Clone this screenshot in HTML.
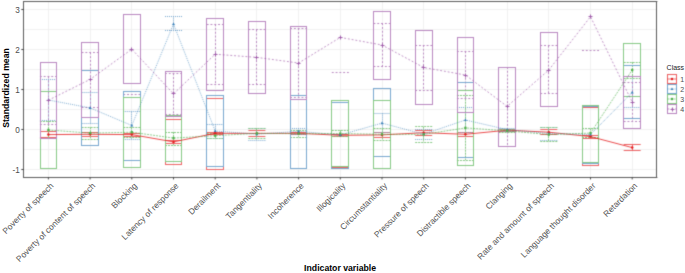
<!DOCTYPE html>
<html><head><meta charset="utf-8"><style>
html,body{margin:0;padding:0;background:#fff;}
body{width:685px;height:273px;overflow:hidden;font-family:"Liberation Sans",sans-serif;}
svg{display:block;}
</style></head><body>
<svg width="685" height="273" viewBox="0 0 685 273">
<defs><filter id="bl" color-interpolation-filters="sRGB" x="0" y="0" width="685" height="273" filterUnits="userSpaceOnUse"><feConvolveMatrix order="3" kernelMatrix="0.0225 0.1050 0.0225 0.1050 0.4900 0.1050 0.0225 0.1050 0.0225" edgeMode="duplicate" preserveAlpha="true"/></filter></defs><g filter="url(#bl)">
<rect width="685" height="273" fill="#fff"/>
<path d="M23.5 169.5H656.9M23.5 129.5H656.9M23.5 89.5H656.9M23.5 49.5H656.9M23.5 9.5H656.9M23.5 149.5H656.9M23.5 109.5H656.9M23.5 69.5H656.9M23.5 29.5H656.9M48.5 1.5V177.5M90.5 1.5V177.5M131.5 1.5V177.5M173.5 1.5V177.5M215.5 1.5V177.5M256.5 1.5V177.5M298.5 1.5V177.5M340.5 1.5V177.5M382.5 1.5V177.5M423.5 1.5V177.5M465.5 1.5V177.5M507.5 1.5V177.5M548.5 1.5V177.5M590.5 1.5V177.5M632.5 1.5V177.5" stroke="#f0f0f0" stroke-width="1" fill="none"/>
<g clip-path="url(#pc)">
<path d="M39.9 131.5H56.9" stroke="#ed6365" stroke-width="1"/><path d="M39.9 137.5H56.9" stroke="#ed6365" stroke-width="1"/><path d="M48.5 131.9V137.3" stroke="#ed6365" stroke-width="1"/><path d="M81.6 132.5H98.6" stroke="#ed6365" stroke-width="1"/><path d="M81.6 136.5H98.6" stroke="#ed6365" stroke-width="1"/><path d="M90.5 132.5V136.3" stroke="#ed6365" stroke-width="1"/><path d="M123.3 133.5H140.3" stroke="#ed6365" stroke-width="1"/><path d="M123.3 136.5H140.3" stroke="#ed6365" stroke-width="1"/><path d="M131.5 133.3V136.9" stroke="#ed6365" stroke-width="1"/><path d="M165 140.5H182" stroke="#ed6365" stroke-width="1"/><path d="M165 143.5H182" stroke="#ed6365" stroke-width="1"/><path d="M173.5 140.5V143.3" stroke="#ed6365" stroke-width="1"/><path d="M206.7 132.5H223.7" stroke="#ed6365" stroke-width="1"/><path d="M206.7 134.5H223.7" stroke="#ed6365" stroke-width="1"/><path d="M215.5 132.2V134.6" stroke="#ed6365" stroke-width="1"/><path d="M248.4 130.5H265.4" stroke="#ed6365" stroke-width="1"/><path d="M248.4 136.5H265.4" stroke="#ed6365" stroke-width="1"/><path d="M256.5 130.8V136" stroke="#ed6365" stroke-width="1"/><path d="M290.1 132.5H307.1" stroke="#ed6365" stroke-width="1"/><path d="M290.1 134.5H307.1" stroke="#ed6365" stroke-width="1"/><path d="M298.5 132V134.6" stroke="#ed6365" stroke-width="1"/><path d="M331.8 134.5H348.8" stroke="#ed6365" stroke-width="1"/><path d="M331.8 136.5H348.8" stroke="#ed6365" stroke-width="1"/><path d="M340.5 134.6V136" stroke="#ed6365" stroke-width="1"/><path d="M373.5 132.5H390.5" stroke="#ed6365" stroke-width="1"/><path d="M373.5 137.5H390.5" stroke="#ed6365" stroke-width="1"/><path d="M382.5 132.9V137.6" stroke="#ed6365" stroke-width="1"/><path d="M415.2 130.5H432.2" stroke="#ed6365" stroke-width="1"/><path d="M415.2 135.5H432.2" stroke="#ed6365" stroke-width="1"/><path d="M423.5 130.2V135.2" stroke="#ed6365" stroke-width="1"/><path d="M456.9 132.5H473.9" stroke="#ed6365" stroke-width="1"/><path d="M456.9 136.5H473.9" stroke="#ed6365" stroke-width="1"/><path d="M465.5 132.5V136.9" stroke="#ed6365" stroke-width="1"/><path d="M498.6 129.5H515.6" stroke="#ed6365" stroke-width="1"/><path d="M498.6 131.5H515.6" stroke="#ed6365" stroke-width="1"/><path d="M507.5 129.4V131" stroke="#ed6365" stroke-width="1"/><path d="M540.3 129.5H557.3" stroke="#ed6365" stroke-width="1"/><path d="M540.3 134.5H557.3" stroke="#ed6365" stroke-width="1"/><path d="M548.5 129.6V134.3" stroke="#ed6365" stroke-width="1"/><path d="M582 135.5H599" stroke="#ed6365" stroke-width="1"/><path d="M582 138.5H599" stroke="#ed6365" stroke-width="1"/><path d="M590.5 135.5V138.4" stroke="#ed6365" stroke-width="1"/><path d="M623.7 144.5H640.7" stroke="#ed6365" stroke-width="1"/><path d="M623.7 150.5H640.7" stroke="#ed6365" stroke-width="1"/><path d="M632.5 144.3V150.4" stroke="#ed6365" stroke-width="1"/>
<path d="M39.9 79.5H56.9" stroke="#77a7cf" stroke-width="1" stroke-dasharray="1 1"/><path d="M39.9 120.5H56.9" stroke="#77a7cf" stroke-width="1" stroke-dasharray="1 1"/><path d="M48.5 79.6V120.4" stroke="#77a7cf" stroke-width="1" stroke-dasharray="1 1"/><path d="M81.6 92.5H98.6" stroke="#77a7cf" stroke-width="1" stroke-dasharray="1 1"/><path d="M81.6 123.5H98.6" stroke="#77a7cf" stroke-width="1" stroke-dasharray="1 1"/><path d="M90.5 92.5V123.7" stroke="#77a7cf" stroke-width="1" stroke-dasharray="1 1"/><path d="M123.3 111.5H140.3" stroke="#77a7cf" stroke-width="1" stroke-dasharray="1 1"/><path d="M123.3 139.5H140.3" stroke="#77a7cf" stroke-width="1" stroke-dasharray="1 1"/><path d="M131.5 111.7V139.5" stroke="#77a7cf" stroke-width="1" stroke-dasharray="1 1"/><path d="M165 16.5H182" stroke="#77a7cf" stroke-width="1" stroke-dasharray="1 1"/><path d="M165 30.5H182" stroke="#77a7cf" stroke-width="1" stroke-dasharray="1 1"/><path d="M173.5 16.4V30.2" stroke="#77a7cf" stroke-width="1" stroke-dasharray="1 1"/><path d="M206.7 124.5H223.7" stroke="#77a7cf" stroke-width="1" stroke-dasharray="1 1"/><path d="M206.7 138.5H223.7" stroke="#77a7cf" stroke-width="1" stroke-dasharray="1 1"/><path d="M215.5 124.3V138" stroke="#77a7cf" stroke-width="1" stroke-dasharray="1 1"/><path d="M248.4 128.5H265.4" stroke="#77a7cf" stroke-width="1" stroke-dasharray="1 1"/><path d="M248.4 140.5H265.4" stroke="#77a7cf" stroke-width="1" stroke-dasharray="1 1"/><path d="M256.5 128.4V140.1" stroke="#77a7cf" stroke-width="1" stroke-dasharray="1 1"/><path d="M290.1 128.5H307.1" stroke="#77a7cf" stroke-width="1" stroke-dasharray="1 1"/><path d="M290.1 134.5H307.1" stroke="#77a7cf" stroke-width="1" stroke-dasharray="1 1"/><path d="M298.5 128.2V134.4" stroke="#77a7cf" stroke-width="1" stroke-dasharray="1 1"/><path d="M373.5 113.5H390.5" stroke="#77a7cf" stroke-width="1" stroke-dasharray="1 1"/><path d="M373.5 132.5H390.5" stroke="#77a7cf" stroke-width="1" stroke-dasharray="1 1"/><path d="M382.5 113.4V132.8" stroke="#77a7cf" stroke-width="1" stroke-dasharray="1 1"/><path d="M415.2 129.5H432.2" stroke="#77a7cf" stroke-width="1" stroke-dasharray="1 1"/><path d="M415.2 139.5H432.2" stroke="#77a7cf" stroke-width="1" stroke-dasharray="1 1"/><path d="M423.5 129.8V139.4" stroke="#77a7cf" stroke-width="1" stroke-dasharray="1 1"/><path d="M456.9 107.5H473.9" stroke="#77a7cf" stroke-width="1" stroke-dasharray="1 1"/><path d="M456.9 132.5H473.9" stroke="#77a7cf" stroke-width="1" stroke-dasharray="1 1"/><path d="M465.5 107.4V132.6" stroke="#77a7cf" stroke-width="1" stroke-dasharray="1 1"/><path d="M498.6 128.5H515.6" stroke="#77a7cf" stroke-width="1" stroke-dasharray="1 1"/><path d="M498.6 131.5H515.6" stroke="#77a7cf" stroke-width="1" stroke-dasharray="1 1"/><path d="M507.5 128V131.2" stroke="#77a7cf" stroke-width="1" stroke-dasharray="1 1"/><path d="M540.3 127.5H557.3" stroke="#77a7cf" stroke-width="1" stroke-dasharray="1 1"/><path d="M540.3 140.5H557.3" stroke="#77a7cf" stroke-width="1" stroke-dasharray="1 1"/><path d="M548.5 127V140.1" stroke="#77a7cf" stroke-width="1" stroke-dasharray="1 1"/><path d="M623.7 76.5H640.7" stroke="#77a7cf" stroke-width="1" stroke-dasharray="1 1"/><path d="M623.7 107.5H640.7" stroke="#77a7cf" stroke-width="1" stroke-dasharray="1 1"/><path d="M632.5 76.6V107.9" stroke="#77a7cf" stroke-width="1" stroke-dasharray="1 1"/>
<path d="M39.9 121.5H56.9" stroke="#86c984" stroke-width="1" stroke-dasharray="2 1"/><path d="M39.9 138.5H56.9" stroke="#86c984" stroke-width="1" stroke-dasharray="2 1"/><path d="M48.5 121.1V138.3" stroke="#86c984" stroke-width="1" stroke-dasharray="2 1"/><path d="M81.6 127.5H98.6" stroke="#86c984" stroke-width="1" stroke-dasharray="2 1"/><path d="M81.6 139.5H98.6" stroke="#86c984" stroke-width="1" stroke-dasharray="2 1"/><path d="M90.5 127.2V139" stroke="#86c984" stroke-width="1" stroke-dasharray="2 1"/><path d="M123.3 127.5H140.3" stroke="#86c984" stroke-width="1" stroke-dasharray="2 1"/><path d="M123.3 137.5H140.3" stroke="#86c984" stroke-width="1" stroke-dasharray="2 1"/><path d="M131.5 127.2V137.2" stroke="#86c984" stroke-width="1" stroke-dasharray="2 1"/><path d="M165 132.5H182" stroke="#86c984" stroke-width="1" stroke-dasharray="2 1"/><path d="M165 145.5H182" stroke="#86c984" stroke-width="1" stroke-dasharray="2 1"/><path d="M173.5 132V145.1" stroke="#86c984" stroke-width="1" stroke-dasharray="2 1"/><path d="M206.7 133.5H223.7" stroke="#86c984" stroke-width="1" stroke-dasharray="2 1"/><path d="M206.7 138.5H223.7" stroke="#86c984" stroke-width="1" stroke-dasharray="2 1"/><path d="M215.5 133.2V138" stroke="#86c984" stroke-width="1" stroke-dasharray="2 1"/><path d="M248.4 128.5H265.4" stroke="#86c984" stroke-width="1" stroke-dasharray="2 1"/><path d="M248.4 138.5H265.4" stroke="#86c984" stroke-width="1" stroke-dasharray="2 1"/><path d="M256.5 128.4V138.2" stroke="#86c984" stroke-width="1" stroke-dasharray="2 1"/><path d="M290.1 130.5H307.1" stroke="#86c984" stroke-width="1" stroke-dasharray="2 1"/><path d="M290.1 137.5H307.1" stroke="#86c984" stroke-width="1" stroke-dasharray="2 1"/><path d="M298.5 130.2V137.2" stroke="#86c984" stroke-width="1" stroke-dasharray="2 1"/><path d="M331.8 130.5H348.8" stroke="#86c984" stroke-width="1" stroke-dasharray="2 1"/><path d="M331.8 136.5H348.8" stroke="#86c984" stroke-width="1" stroke-dasharray="2 1"/><path d="M340.5 130.2V136.8" stroke="#86c984" stroke-width="1" stroke-dasharray="2 1"/><path d="M373.5 128.5H390.5" stroke="#86c984" stroke-width="1" stroke-dasharray="2 1"/><path d="M373.5 140.5H390.5" stroke="#86c984" stroke-width="1" stroke-dasharray="2 1"/><path d="M382.5 128.4V140.4" stroke="#86c984" stroke-width="1" stroke-dasharray="2 1"/><path d="M415.2 126.5H432.2" stroke="#86c984" stroke-width="1" stroke-dasharray="2 1"/><path d="M415.2 142.5H432.2" stroke="#86c984" stroke-width="1" stroke-dasharray="2 1"/><path d="M423.5 126.7V142.2" stroke="#86c984" stroke-width="1" stroke-dasharray="2 1"/><path d="M456.9 95.5H473.9" stroke="#86c984" stroke-width="1" stroke-dasharray="2 1"/><path d="M456.9 160.5H473.9" stroke="#86c984" stroke-width="1" stroke-dasharray="2 1"/><path d="M465.5 95.7V160" stroke="#86c984" stroke-width="1" stroke-dasharray="2 1"/><path d="M498.6 129.5H515.6" stroke="#86c984" stroke-width="1" stroke-dasharray="2 1"/><path d="M498.6 132.5H515.6" stroke="#86c984" stroke-width="1" stroke-dasharray="2 1"/><path d="M507.5 129.5V132.1" stroke="#86c984" stroke-width="1" stroke-dasharray="2 1"/><path d="M540.3 127.5H557.3" stroke="#86c984" stroke-width="1" stroke-dasharray="2 1"/><path d="M540.3 141.5H557.3" stroke="#86c984" stroke-width="1" stroke-dasharray="2 1"/><path d="M548.5 127.2V141.9" stroke="#86c984" stroke-width="1" stroke-dasharray="2 1"/><path d="M582 128.5H599" stroke="#86c984" stroke-width="1" stroke-dasharray="2 1"/><path d="M582 137.5H599" stroke="#86c984" stroke-width="1" stroke-dasharray="2 1"/><path d="M590.5 128.4V137.8" stroke="#86c984" stroke-width="1" stroke-dasharray="2 1"/><path d="M623.7 62.5H640.7" stroke="#86c984" stroke-width="1" stroke-dasharray="2 1"/><path d="M623.7 78.5H640.7" stroke="#86c984" stroke-width="1" stroke-dasharray="2 1"/><path d="M632.5 62V78" stroke="#86c984" stroke-width="1" stroke-dasharray="2 1"/>
<path d="M39.9 76.5H56.9" stroke="#b987c0" stroke-width="1" stroke-dasharray="1.9 1.9"/><path d="M39.9 124.5H56.9" stroke="#b987c0" stroke-width="1" stroke-dasharray="1.9 1.9"/><path d="M48.5 76.5V124.1" stroke="#b987c0" stroke-width="1" stroke-dasharray="1.9 1.9"/><path d="M81.6 52.5H98.6" stroke="#b987c0" stroke-width="1" stroke-dasharray="1.9 1.9"/><path d="M81.6 107.5H98.6" stroke="#b987c0" stroke-width="1" stroke-dasharray="1.9 1.9"/><path d="M90.5 52.4V107.4" stroke="#b987c0" stroke-width="1" stroke-dasharray="1.9 1.9"/><path d="M123.3 94.5H140.3" stroke="#b987c0" stroke-width="1" stroke-dasharray="1.9 1.9"/><path d="M165 73.5H182" stroke="#b987c0" stroke-width="1" stroke-dasharray="1.9 1.9"/><path d="M165 114.5H182" stroke="#b987c0" stroke-width="1" stroke-dasharray="1.9 1.9"/><path d="M173.5 73.3V114.6" stroke="#b987c0" stroke-width="1" stroke-dasharray="1.9 1.9"/><path d="M206.7 24.5H223.7" stroke="#b987c0" stroke-width="1" stroke-dasharray="1.9 1.9"/><path d="M206.7 84.5H223.7" stroke="#b987c0" stroke-width="1" stroke-dasharray="1.9 1.9"/><path d="M215.5 24.2V84.5" stroke="#b987c0" stroke-width="1" stroke-dasharray="1.9 1.9"/><path d="M248.4 29.5H265.4" stroke="#b987c0" stroke-width="1" stroke-dasharray="1.9 1.9"/><path d="M248.4 84.5H265.4" stroke="#b987c0" stroke-width="1" stroke-dasharray="1.9 1.9"/><path d="M256.5 29.7V84.5" stroke="#b987c0" stroke-width="1" stroke-dasharray="1.9 1.9"/><path d="M290.1 28.5H307.1" stroke="#b987c0" stroke-width="1" stroke-dasharray="1.9 1.9"/><path d="M290.1 97.5H307.1" stroke="#b987c0" stroke-width="1" stroke-dasharray="1.9 1.9"/><path d="M298.5 28.2V97.8" stroke="#b987c0" stroke-width="1" stroke-dasharray="1.9 1.9"/><path d="M331.8 72.5H348.8" stroke="#b987c0" stroke-width="1" stroke-dasharray="1.9 1.9"/><path d="M373.5 23.5H390.5" stroke="#b987c0" stroke-width="1" stroke-dasharray="1.9 1.9"/><path d="M373.5 66.5H390.5" stroke="#b987c0" stroke-width="1" stroke-dasharray="1.9 1.9"/><path d="M382.5 23.2V66.7" stroke="#b987c0" stroke-width="1" stroke-dasharray="1.9 1.9"/><path d="M415.2 45.5H432.2" stroke="#b987c0" stroke-width="1" stroke-dasharray="1.9 1.9"/><path d="M415.2 90.5H432.2" stroke="#b987c0" stroke-width="1" stroke-dasharray="1.9 1.9"/><path d="M423.5 45V90.5" stroke="#b987c0" stroke-width="1" stroke-dasharray="1.9 1.9"/><path d="M456.9 51.5H473.9" stroke="#b987c0" stroke-width="1" stroke-dasharray="1.9 1.9"/><path d="M456.9 98.5H473.9" stroke="#b987c0" stroke-width="1" stroke-dasharray="1.9 1.9"/><path d="M465.5 51.2V98.8" stroke="#b987c0" stroke-width="1" stroke-dasharray="1.9 1.9"/><path d="M498.6 67.5H515.6" stroke="#b987c0" stroke-width="1" stroke-dasharray="1.9 1.9"/><path d="M498.6 146.5H515.6" stroke="#b987c0" stroke-width="1" stroke-dasharray="1.9 1.9"/><path d="M507.5 67V146.2" stroke="#b987c0" stroke-width="1" stroke-dasharray="1.9 1.9"/><path d="M540.3 45.5H557.3" stroke="#b987c0" stroke-width="1" stroke-dasharray="1.9 1.9"/><path d="M540.3 93.5H557.3" stroke="#b987c0" stroke-width="1" stroke-dasharray="1.9 1.9"/><path d="M548.5 45.7V93.7" stroke="#b987c0" stroke-width="1" stroke-dasharray="1.9 1.9"/><path d="M582 50.5H599" stroke="#b987c0" stroke-width="1" stroke-dasharray="1.9 1.9"/><path d="M623.7 82.5H640.7" stroke="#b987c0" stroke-width="1" stroke-dasharray="1.9 1.9"/><path d="M623.7 121.5H640.7" stroke="#b987c0" stroke-width="1" stroke-dasharray="1.9 1.9"/><path d="M632.5 82.4V121.5" stroke="#b987c0" stroke-width="1" stroke-dasharray="1.9 1.9"/>
<path d="M165 119.5H182" stroke="#ed6365" stroke-width="1"/><path d="M165 164.5H182" stroke="#ed6365" stroke-width="1"/><path d="M165.5 119V165" stroke="#ed6365" stroke-width="1"/><path d="M181.5 119V165" stroke="#ed6365" stroke-width="1"/><path d="M206 98.5H224" stroke="#ed6365" stroke-width="1"/><path d="M206 169.5H224" stroke="#ed6365" stroke-width="1"/><path d="M206.5 98V170" stroke="#ed6365" stroke-width="1"/><path d="M223.5 98V170" stroke="#ed6365" stroke-width="1"/><path d="M331 100.5H349" stroke="#ed6365" stroke-width="1"/><path d="M331 167.5H349" stroke="#ed6365" stroke-width="1"/><path d="M331.5 100V168" stroke="#ed6365" stroke-width="1"/><path d="M348.5 100V168" stroke="#ed6365" stroke-width="1"/><path d="M582 107.5H599" stroke="#ed6365" stroke-width="1"/><path d="M582 165.5H599" stroke="#ed6365" stroke-width="1"/><path d="M582.5 107V166" stroke="#ed6365" stroke-width="1"/><path d="M598.5 107V166" stroke="#ed6365" stroke-width="1"/>
<path d="M81 70.5H99" stroke="#77a7cf" stroke-width="1"/><path d="M81 145.5H99" stroke="#77a7cf" stroke-width="1"/><path d="M81.5 70V146" stroke="#77a7cf" stroke-width="1"/><path d="M98.5 70V146" stroke="#77a7cf" stroke-width="1"/><path d="M123 91.5H141" stroke="#77a7cf" stroke-width="1"/><path d="M123 160.5H141" stroke="#77a7cf" stroke-width="1"/><path d="M123.5 91V161" stroke="#77a7cf" stroke-width="1"/><path d="M140.5 91V161" stroke="#77a7cf" stroke-width="1"/><path d="M206 95.5H224" stroke="#77a7cf" stroke-width="1"/><path d="M206 166.5H224" stroke="#77a7cf" stroke-width="1"/><path d="M206.5 95V167" stroke="#77a7cf" stroke-width="1"/><path d="M223.5 95V167" stroke="#77a7cf" stroke-width="1"/><path d="M290 95.5H307" stroke="#77a7cf" stroke-width="1"/><path d="M290 168.5H307" stroke="#77a7cf" stroke-width="1"/><path d="M290.5 95V169" stroke="#77a7cf" stroke-width="1"/><path d="M306.5 95V169" stroke="#77a7cf" stroke-width="1"/><path d="M331 102.5H349" stroke="#77a7cf" stroke-width="1"/><path d="M331 168.5H349" stroke="#77a7cf" stroke-width="1"/><path d="M331.5 102V169" stroke="#77a7cf" stroke-width="1"/><path d="M348.5 102V169" stroke="#77a7cf" stroke-width="1"/><path d="M373 88.5H391" stroke="#77a7cf" stroke-width="1"/><path d="M373 156.5H391" stroke="#77a7cf" stroke-width="1"/><path d="M373.5 88V157" stroke="#77a7cf" stroke-width="1"/><path d="M390.5 88V157" stroke="#77a7cf" stroke-width="1"/><path d="M457 82.5H474" stroke="#77a7cf" stroke-width="1"/><path d="M457 157.5H474" stroke="#77a7cf" stroke-width="1"/><path d="M457.5 82V158" stroke="#77a7cf" stroke-width="1"/><path d="M473.5 82V158" stroke="#77a7cf" stroke-width="1"/><path d="M582 106.5H599" stroke="#77a7cf" stroke-width="1"/><path d="M582 163.5H599" stroke="#77a7cf" stroke-width="1"/><path d="M582.5 106V164" stroke="#77a7cf" stroke-width="1"/><path d="M598.5 106V164" stroke="#77a7cf" stroke-width="1"/><path d="M623 65.5H641" stroke="#77a7cf" stroke-width="1"/><path d="M623 118.5H641" stroke="#77a7cf" stroke-width="1"/><path d="M623.5 65V119" stroke="#77a7cf" stroke-width="1"/><path d="M640.5 65V119" stroke="#77a7cf" stroke-width="1"/>
<path d="M40 91.5H57" stroke="#86c984" stroke-width="1"/><path d="M40 168.5H57" stroke="#86c984" stroke-width="1"/><path d="M40.5 91V169" stroke="#86c984" stroke-width="1"/><path d="M56.5 91V169" stroke="#86c984" stroke-width="1"/><path d="M123 97.5H141" stroke="#86c984" stroke-width="1"/><path d="M123 167.5H141" stroke="#86c984" stroke-width="1"/><path d="M123.5 97V168" stroke="#86c984" stroke-width="1"/><path d="M140.5 97V168" stroke="#86c984" stroke-width="1"/><path d="M165 115.5H182" stroke="#86c984" stroke-width="1"/><path d="M165 161.5H182" stroke="#86c984" stroke-width="1"/><path d="M165.5 115V162" stroke="#86c984" stroke-width="1"/><path d="M181.5 115V162" stroke="#86c984" stroke-width="1"/><path d="M331 100.5H349" stroke="#86c984" stroke-width="1"/><path d="M331 166.5H349" stroke="#86c984" stroke-width="1"/><path d="M331.5 100V167" stroke="#86c984" stroke-width="1"/><path d="M348.5 100V167" stroke="#86c984" stroke-width="1"/><path d="M373 100.5H391" stroke="#86c984" stroke-width="1"/><path d="M373 168.5H391" stroke="#86c984" stroke-width="1"/><path d="M373.5 100V169" stroke="#86c984" stroke-width="1"/><path d="M390.5 100V169" stroke="#86c984" stroke-width="1"/><path d="M457 90.5H474" stroke="#86c984" stroke-width="1"/><path d="M457 165.5H474" stroke="#86c984" stroke-width="1"/><path d="M457.5 90V166" stroke="#86c984" stroke-width="1"/><path d="M473.5 90V166" stroke="#86c984" stroke-width="1"/><path d="M582 105.5H599" stroke="#86c984" stroke-width="1"/><path d="M582 162.5H599" stroke="#86c984" stroke-width="1"/><path d="M582.5 105V163" stroke="#86c984" stroke-width="1"/><path d="M598.5 105V163" stroke="#86c984" stroke-width="1"/><path d="M623 43.5H641" stroke="#86c984" stroke-width="1"/><path d="M623 96.5H641" stroke="#86c984" stroke-width="1"/><path d="M623.5 43V97" stroke="#86c984" stroke-width="1"/><path d="M640.5 43V97" stroke="#86c984" stroke-width="1"/>
<path d="M40 62.5H57" stroke="#b987c0" stroke-width="1"/><path d="M40 138.5H57" stroke="#b987c0" stroke-width="1"/><path d="M40.5 62V139" stroke="#b987c0" stroke-width="1"/><path d="M56.5 62V139" stroke="#b987c0" stroke-width="1"/><path d="M81 42.5H99" stroke="#b987c0" stroke-width="1"/><path d="M81 117.5H99" stroke="#b987c0" stroke-width="1"/><path d="M81.5 42V118" stroke="#b987c0" stroke-width="1"/><path d="M98.5 42V118" stroke="#b987c0" stroke-width="1"/><path d="M123 14.5H141" stroke="#b987c0" stroke-width="1"/><path d="M123 83.5H141" stroke="#b987c0" stroke-width="1"/><path d="M123.5 14V84" stroke="#b987c0" stroke-width="1"/><path d="M140.5 14V84" stroke="#b987c0" stroke-width="1"/><path d="M165 71.5H182" stroke="#b987c0" stroke-width="1"/><path d="M165 116.5H182" stroke="#b987c0" stroke-width="1"/><path d="M165.5 71V117" stroke="#b987c0" stroke-width="1"/><path d="M181.5 71V117" stroke="#b987c0" stroke-width="1"/><path d="M206 18.5H224" stroke="#b987c0" stroke-width="1"/><path d="M206 90.5H224" stroke="#b987c0" stroke-width="1"/><path d="M206.5 18V91" stroke="#b987c0" stroke-width="1"/><path d="M223.5 18V91" stroke="#b987c0" stroke-width="1"/><path d="M248 21.5H266" stroke="#b987c0" stroke-width="1"/><path d="M248 93.5H266" stroke="#b987c0" stroke-width="1"/><path d="M248.5 21V94" stroke="#b987c0" stroke-width="1"/><path d="M265.5 21V94" stroke="#b987c0" stroke-width="1"/><path d="M290 26.5H307" stroke="#b987c0" stroke-width="1"/><path d="M290 99.5H307" stroke="#b987c0" stroke-width="1"/><path d="M290.5 26V100" stroke="#b987c0" stroke-width="1"/><path d="M306.5 26V100" stroke="#b987c0" stroke-width="1"/><path d="M373 11.5H391" stroke="#b987c0" stroke-width="1"/><path d="M373 79.5H391" stroke="#b987c0" stroke-width="1"/><path d="M373.5 11V80" stroke="#b987c0" stroke-width="1"/><path d="M390.5 11V80" stroke="#b987c0" stroke-width="1"/><path d="M415 30.5H433" stroke="#b987c0" stroke-width="1"/><path d="M415 104.5H433" stroke="#b987c0" stroke-width="1"/><path d="M415.5 30V105" stroke="#b987c0" stroke-width="1"/><path d="M432.5 30V105" stroke="#b987c0" stroke-width="1"/><path d="M457 37.5H474" stroke="#b987c0" stroke-width="1"/><path d="M457 112.5H474" stroke="#b987c0" stroke-width="1"/><path d="M457.5 37V113" stroke="#b987c0" stroke-width="1"/><path d="M473.5 37V113" stroke="#b987c0" stroke-width="1"/><path d="M498 67.5H516" stroke="#b987c0" stroke-width="1"/><path d="M498 146.5H516" stroke="#b987c0" stroke-width="1"/><path d="M498.5 67V147" stroke="#b987c0" stroke-width="1"/><path d="M515.5 67V147" stroke="#b987c0" stroke-width="1"/><path d="M540 32.5H558" stroke="#b987c0" stroke-width="1"/><path d="M540 106.5H558" stroke="#b987c0" stroke-width="1"/><path d="M540.5 32V107" stroke="#b987c0" stroke-width="1"/><path d="M557.5 32V107" stroke="#b987c0" stroke-width="1"/><path d="M623 76.5H641" stroke="#b987c0" stroke-width="1"/><path d="M623 128.5H641" stroke="#b987c0" stroke-width="1"/><path d="M623.5 76V129" stroke="#b987c0" stroke-width="1"/><path d="M640.5 76V129" stroke="#b987c0" stroke-width="1"/>
<polyline points="48.4,134.6 90.1,134.3 131.8,134.6 173.5,141.9 215.2,133.3 256.9,133.4 298.6,133.3 340.3,135.3 382,134.9 423.7,132.7 465.4,134.3 507.1,130.2 548.8,132.2 590.5,136.6 632.2,147.6" fill="none" stroke="#E41A1C" stroke-width="0.8"/>
<polyline points="48.4,100 90.1,107.9 131.8,125.5 173.5,24 215.2,131 256.9,134.2 298.6,131.3 340.3,135 382,123.1 423.7,134.2 465.4,120 507.1,129.6 548.8,133.5 590.5,134.5 632.2,92.4" fill="none" stroke="#377EB8" stroke-width="0.62" stroke-dasharray="1 1"/>
<polyline points="48.4,130 90.1,133.1 131.8,132.2 173.5,138.1 215.2,135.7 256.9,133.3 298.6,133.7 340.3,133.5 382,134.3 423.7,134.4 465.4,127.9 507.1,130.8 548.8,134.6 590.5,133.1 632.2,70" fill="none" stroke="#4DAF4A" stroke-width="0.62" stroke-dasharray="2 1"/>
<polyline points="48.4,100.2 90.1,79.4 131.8,49.2 173.5,93.8 215.2,54.2 256.9,57.4 298.6,63 340.3,37.4 382,45 423.7,67.5 465.4,75 507.1,106.4 548.8,70 590.5,16.7 632.2,102.1" fill="none" stroke="#984EA3" stroke-width="0.62" stroke-dasharray="1.9 1.9"/>
<circle cx="48.4" cy="134.6" r="1.25" fill="#E41A1C"/><circle cx="90.1" cy="134.3" r="1.25" fill="#E41A1C"/><circle cx="131.8" cy="134.6" r="1.25" fill="#E41A1C"/><circle cx="173.5" cy="141.9" r="1.25" fill="#E41A1C"/><circle cx="215.2" cy="133.3" r="1.25" fill="#E41A1C"/><circle cx="256.9" cy="133.4" r="1.25" fill="#E41A1C"/><circle cx="298.6" cy="133.3" r="1.25" fill="#E41A1C"/><circle cx="340.3" cy="135.3" r="1.25" fill="#E41A1C"/><circle cx="382" cy="134.9" r="1.25" fill="#E41A1C"/><circle cx="423.7" cy="132.7" r="1.25" fill="#E41A1C"/><circle cx="465.4" cy="134.3" r="1.25" fill="#E41A1C"/><circle cx="507.1" cy="130.2" r="1.25" fill="#E41A1C"/><circle cx="548.8" cy="132.2" r="1.25" fill="#E41A1C"/><circle cx="590.5" cy="136.6" r="1.25" fill="#E41A1C"/><circle cx="632.2" cy="147.6" r="1.25" fill="#E41A1C"/>
<path d="M48.4 98.42L49.9 101.12L46.9 101.12Z" fill="#377EB8"/><path d="M90.1 106.33L91.6 109.03L88.6 109.03Z" fill="#377EB8"/><path d="M131.8 123.92L133.3 126.62L130.3 126.62Z" fill="#377EB8"/><path d="M173.5 22.43L175 25.12L172 25.12Z" fill="#377EB8"/><path d="M215.2 129.43L216.7 132.12L213.7 132.12Z" fill="#377EB8"/><path d="M256.9 132.62L258.4 135.32L255.4 135.32Z" fill="#377EB8"/><path d="M298.6 129.73L300.1 132.43L297.1 132.43Z" fill="#377EB8"/><path d="M340.3 133.43L341.8 136.12L338.8 136.12Z" fill="#377EB8"/><path d="M382 121.52L383.5 124.22L380.5 124.22Z" fill="#377EB8"/><path d="M423.7 132.62L425.2 135.32L422.2 135.32Z" fill="#377EB8"/><path d="M465.4 118.42L466.9 121.12L463.9 121.12Z" fill="#377EB8"/><path d="M507.1 128.03L508.6 130.72L505.6 130.72Z" fill="#377EB8"/><path d="M548.8 131.93L550.3 134.62L547.3 134.62Z" fill="#377EB8"/><path d="M590.5 132.93L592 135.62L589 135.62Z" fill="#377EB8"/><path d="M632.2 90.83L633.7 93.53L630.7 93.53Z" fill="#377EB8"/>
<rect x="47.25" y="128.85" width="2.3" height="2.3" fill="#4DAF4A"/><rect x="88.95" y="131.95" width="2.3" height="2.3" fill="#4DAF4A"/><rect x="130.65" y="131.05" width="2.3" height="2.3" fill="#4DAF4A"/><rect x="172.35" y="136.95" width="2.3" height="2.3" fill="#4DAF4A"/><rect x="214.05" y="134.55" width="2.3" height="2.3" fill="#4DAF4A"/><rect x="255.75" y="132.15" width="2.3" height="2.3" fill="#4DAF4A"/><rect x="297.45" y="132.55" width="2.3" height="2.3" fill="#4DAF4A"/><rect x="339.15" y="132.35" width="2.3" height="2.3" fill="#4DAF4A"/><rect x="380.85" y="133.15" width="2.3" height="2.3" fill="#4DAF4A"/><rect x="422.55" y="133.25" width="2.3" height="2.3" fill="#4DAF4A"/><rect x="464.25" y="126.75" width="2.3" height="2.3" fill="#4DAF4A"/><rect x="505.95" y="129.65" width="2.3" height="2.3" fill="#4DAF4A"/><rect x="547.65" y="133.45" width="2.3" height="2.3" fill="#4DAF4A"/><rect x="589.35" y="131.95" width="2.3" height="2.3" fill="#4DAF4A"/><rect x="631.05" y="68.85" width="2.3" height="2.3" fill="#4DAF4A"/>
<path d="M46.5 100.5H50.5M48.5 98.5V102.5" stroke="#a260ac" stroke-width="1" fill="none"/><path d="M88.5 79.5H92.5M90.5 77.5V81.5" stroke="#a260ac" stroke-width="1" fill="none"/><path d="M129.5 49.5H133.5M131.5 47.5V51.5" stroke="#a260ac" stroke-width="1" fill="none"/><path d="M171.5 93.5H175.5M173.5 91.5V95.5" stroke="#a260ac" stroke-width="1" fill="none"/><path d="M213.5 54.5H217.5M215.5 52.5V56.5" stroke="#a260ac" stroke-width="1" fill="none"/><path d="M254.5 57.5H258.5M256.5 55.5V59.5" stroke="#a260ac" stroke-width="1" fill="none"/><path d="M296.5 63.5H300.5M298.5 61.5V65.5" stroke="#a260ac" stroke-width="1" fill="none"/><path d="M338.5 37.5H342.5M340.5 35.5V39.5" stroke="#a260ac" stroke-width="1" fill="none"/><path d="M380.5 45.5H384.5M382.5 43.5V47.5" stroke="#a260ac" stroke-width="1" fill="none"/><path d="M421.5 67.5H425.5M423.5 65.5V69.5" stroke="#a260ac" stroke-width="1" fill="none"/><path d="M463.5 75.5H467.5M465.5 73.5V77.5" stroke="#a260ac" stroke-width="1" fill="none"/><path d="M505.5 106.5H509.5M507.5 104.5V108.5" stroke="#a260ac" stroke-width="1" fill="none"/><path d="M546.5 70.5H550.5M548.5 68.5V72.5" stroke="#a260ac" stroke-width="1" fill="none"/><path d="M588.5 16.5H592.5M590.5 14.5V18.5" stroke="#a260ac" stroke-width="1" fill="none"/><path d="M630.5 102.5H634.5M632.5 100.5V104.5" stroke="#a260ac" stroke-width="1" fill="none"/>
</g>
<defs><clipPath id="pc"><rect x="23.5" y="1.5" width="633.4" height="176"/></clipPath></defs>
<path d="M23 1.5H657.4" stroke="#5a5a5a" stroke-width="1"/><path d="M23 177.5H657.4" stroke="#5a5a5a" stroke-width="1"/><path d="M23.5 1V178" stroke="#5a5a5a" stroke-width="1"/><path d="M656.5 1V178" stroke="#5a5a5a" stroke-width="1"/>
<path d="M21.3 169.5H23.5M21.3 129.5H23.5M21.3 89.5H23.5M21.3 49.5H23.5M21.3 9.5H23.5M48.4 177.5V179.4M90.1 177.5V179.4M131.8 177.5V179.4M173.5 177.5V179.4M215.2 177.5V179.4M256.9 177.5V179.4M298.6 177.5V179.4M340.3 177.5V179.4M382 177.5V179.4M423.7 177.5V179.4M465.4 177.5V179.4M507.1 177.5V179.4M548.8 177.5V179.4M590.5 177.5V179.4M632.2 177.5V179.4" stroke="#333" stroke-width="0.9" fill="none"/>
<rect x="667.5" y="74.5" width="9" height="9" fill="none" stroke="#ec5f60" stroke-width="1"/>
<path d="M667.5 79H676.5" stroke="#E41A1C" stroke-width="0.62"/>
<circle cx="672" cy="79" r="1.25" fill="#E41A1C"/>
<rect x="667.5" y="84.5" width="9" height="9" fill="none" stroke="#73a5cd" stroke-width="1"/>
<path d="M667.5 89H676.5" stroke="#377EB8" stroke-width="0.62" stroke-dasharray="1 1"/>
<path d="M672 87.42L673.5 90.12L670.5 90.12Z" fill="#377EB8"/>
<rect x="667.5" y="94.5" width="9" height="9" fill="none" stroke="#82c780" stroke-width="1"/>
<path d="M667.5 99H676.5" stroke="#4DAF4A" stroke-width="0.62" stroke-dasharray="2 1"/>
<rect x="670.85" y="97.85" width="2.3" height="2.3" fill="#4DAF4A"/>
<rect x="667.5" y="104.5" width="9" height="9" fill="none" stroke="#b783bf" stroke-width="1"/>
<path d="M667.5 109H676.5" stroke="#984EA3" stroke-width="0.62" stroke-dasharray="1.9 1.9"/>
<path d="M670.5 109.5H674.5M672.5 107.5V111.5" stroke="#a260ac" stroke-width="1" fill="none"/>
</g>
<g font-family="Liberation Sans, sans-serif" font-size="8.2" fill="#4d4d4d" text-anchor="end">
<text x="19.9" y="173.2">-1</text>
<text x="19.9" y="133.2">0</text>
<text x="19.9" y="93.2">1</text>
<text x="19.9" y="53.2">2</text>
<text x="19.9" y="13.2">3</text>
</g>
<g font-family="Liberation Sans, sans-serif" font-size="8.5" fill="#555" text-anchor="end">
<text transform="translate(54.1 186.3) rotate(-45)">Poverty of speech</text>
<text transform="translate(95.8 186.3) rotate(-45)">Poverty of content of speech</text>
<text transform="translate(137.5 186.3) rotate(-45)">Blocking</text>
<text transform="translate(179.2 186.3) rotate(-45)">Latency of response</text>
<text transform="translate(220.9 186.3) rotate(-45)">Derailment</text>
<text transform="translate(262.6 186.3) rotate(-45)">Tangentiality</text>
<text transform="translate(304.3 186.3) rotate(-45)">Incoherence</text>
<text transform="translate(346 186.3) rotate(-45)">Illogicality</text>
<text transform="translate(387.7 186.3) rotate(-45)">Circumstantiality</text>
<text transform="translate(429.4 186.3) rotate(-45)">Pressure of speech</text>
<text transform="translate(471.1 186.3) rotate(-45)">Distractible speech</text>
<text transform="translate(512.8 186.3) rotate(-45)">Clanging</text>
<text transform="translate(554.5 186.3) rotate(-45)">Rate and amount of speech</text>
<text transform="translate(596.2 186.3) rotate(-45)">Language thought disorder</text>
<text transform="translate(637.9 186.3) rotate(-45)">Retardation</text>
</g>
<text x="340.1" y="270.8" font-family="Liberation Sans, sans-serif" font-weight="bold" font-size="8.7" fill="#000" text-anchor="middle">Indicator variable</text>
<text transform="translate(8.9 88.0) rotate(-90)" font-family="Liberation Sans, sans-serif" font-weight="bold" font-size="8.7" fill="#000" text-anchor="middle">Standardized mean</text>
<text x="666.6" y="70.1" font-family="Liberation Sans, sans-serif" font-size="7" fill="#1a1a1a">Class</text>
<text x="680.3" y="81.7" font-family="Liberation Sans, sans-serif" font-size="7" fill="#4d4d4d">1</text>
<text x="680.3" y="91.7" font-family="Liberation Sans, sans-serif" font-size="7" fill="#4d4d4d">2</text>
<text x="680.3" y="101.7" font-family="Liberation Sans, sans-serif" font-size="7" fill="#4d4d4d">3</text>
<text x="680.3" y="111.7" font-family="Liberation Sans, sans-serif" font-size="7" fill="#4d4d4d">4</text>
</svg>
</body></html>
